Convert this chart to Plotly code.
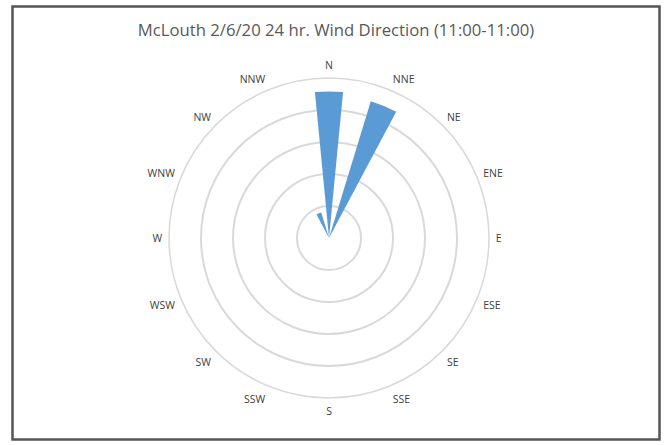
import plotly.graph_objects as go

# Compass sectors and share of the 24 h period (%) per sector
directions = ["N", "NNE", "NE", "ENE", "E", "ESE", "SE", "SSE",
              "S", "SSW", "SW", "WSW", "W", "WNW", "NW", "NNW"]
frequency = [45.8, 44.7, 0, 0, 0, 0, 0, 0,
             0, 0, 0, 0, 0, 0, 0, 8.3]
ring_values = [0, 10, 20, 30, 40, 50]

title_text = "McLouth 2/6/20 24 hr. Wind Direction (11:00-11:00)"

W, H = 667, 445
cx, cy, R = 329, 238, 160  # pixel centre and outer radius of the rose

fig = go.Figure()
fig.add_trace(go.Barpolar(
    r=frequency,
    theta=directions,
    width=[0.49] * len(directions),  # in category units (1 = 22.5 deg)
    marker=dict(color="#5B9BD5", line=dict(width=0)),
    hoverinfo="theta+r",
))

grid_col = "#D9D9D9"
fig.update_layout(
    width=W, height=H,
    margin=dict(l=0, r=0, t=0, b=0),
    paper_bgcolor="white",
    plot_bgcolor="white",
    showlegend=False,
    font=dict(family="Open Sans, Arial, sans-serif", color="#595959"),
    title=dict(text=title_text, x=336 / W, xanchor="center",
               y=1 - 30 / H, yanchor="middle",
               font=dict(size=16.7, color="#595959",
                         family="Open Sans, Arial, sans-serif")),
    polar=dict(
        domain=dict(x=[(cx - R) / W, (cx + R) / W],
                    y=[(H - (cy + R)) / H, (H - (cy - R)) / H]),
        bgcolor="white",
        bargap=0,
        radialaxis=dict(range=[0, 50], tickvals=ring_values,
                        showticklabels=False, ticks="",
                        showline=False, gridcolor=grid_col, gridwidth=1.5),
        angularaxis=dict(rotation=90, direction="clockwise",
                         categoryorder="array", categoryarray=directions,
                         showgrid=False, ticks="outside", ticklen=4,
                         tickcolor="rgba(0,0,0,0)",
                         showline=True, linecolor=grid_col, linewidth=1.5,
                         tickfont=dict(size=10.5, color="#404040")),
    ),
    shapes=[dict(type="rect", xref="paper", yref="paper",
                 x0=12.5 / W, x1=659.5 / W,
                 y0=1 - 439.5 / H, y1=1 - 6.5 / H,
                 line=dict(color="#555555", width=2.5))],
)

fig.write_html("out.html")
